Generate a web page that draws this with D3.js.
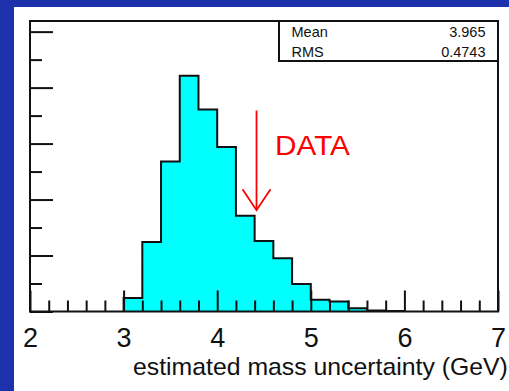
<!DOCTYPE html>
<html>
<head>
<meta charset="utf-8">
<script src="https://cdn.jsdelivr.net/npm/d3@7"></script>
<style>
  html, body { margin: 0; padding: 0; background: #1d31ac; }
  svg { display: block; }
  text { font-family: "Liberation Sans", Arial, Helvetica, sans-serif; }
</style>
</head>
<body>
<svg id="chart" width="509" height="391"></svg>
<script>
// Histogram of the estimated mass uncertainty, 0.2 GeV bins
const binLow = [3.0, 3.2, 3.4, 3.6, 3.8, 4.0, 4.2, 4.4, 4.6, 4.8, 5.0, 5.2, 5.4, 5.6, 5.8];
const binWidth = 0.2;
const counts = [24, 124, 268, 421, 361, 294, 171, 126, 95, 49, 21, 18, 6, 2, 1];

const xTicks = [2, 3, 4, 5, 6, 7];
const xDomain = [2, 7];
const yDomain = [0, 519];
const yMajor = [0, 100, 200, 300, 400, 500];
const yMinor = [50, 150, 250, 350, 450];

const statNames = ["Mean", "RMS"];
const statValues = ["3.965", "0.4743"];

// Measured value in data, marked by an arrow
const dataValue = 4.42;
const arrowFrom = 359;
const arrowTo = 181;
const dataLabel = "DATA";
const xTitle = "estimated mass uncertainty (GeV)";

const svg = d3.select("#chart");
const W = 509, H = 391;

// white pad behind the plot
svg.append("rect").attr("x", 14).attr("y", 7).attr("width", W - 14).attr("height", H - 7).attr("fill", "#ffffff");

const plot = { left: 30, right: 498, top: 21, bottom: 311.5 };
const x = d3.scaleLinear().domain(xDomain).range([plot.left, plot.right]);
const y = d3.scaleLinear().domain(yDomain).range([plot.bottom, plot.top]);

// step outline of the histogram
const steps = [];
binLow.forEach((lo, i) => {
  steps.push([lo, counts[i]]);
  steps.push([lo + binWidth, counts[i]]);
});
const first = binLow[0], last = binLow[binLow.length - 1] + binWidth;
const outline = [[first, 0], ...steps, [last, 0]];

svg.append("path")
  .attr("d", d3.area().x(d => x(d[0])).y0(y(0)).y1(d => y(d[1]))(outline))
  .attr("fill", "#00ffff");
svg.append("path")
  .attr("d", d3.line().x(d => x(d[0])).y(d => y(d[1]))(outline))
  .attr("fill", "none").attr("stroke", "#111").attr("stroke-width", 2);

// x axis: ticks pointing up into the frame
const xMinorTicks = d3.range(0, 26).map(i => xDomain[0] + i * 0.2).filter(v => !xTicks.some(t => Math.abs(t - v) < 1e-6));
const gxMinor = svg.append("g").attr("transform", `translate(0,${plot.bottom})`)
  .call(d3.axisBottom(x).tickValues(xMinorTicks).tickSizeInner(-11).tickSizeOuter(0).tickFormat(""));
const gx = svg.append("g").attr("transform", `translate(0,${plot.bottom})`)
  .call(d3.axisBottom(x).tickValues(xTicks).tickSizeInner(-21).tickSizeOuter(0).tickFormat(d3.format("d")));
[gx, gxMinor].forEach(g => {
  g.select(".domain").remove();
  g.selectAll(".tick line").attr("stroke", "#111").attr("stroke-width", 2);
});
gx.selectAll(".tick text")
  .attr("y", 35.5).attr("dy", 0)
  .attr("fill", "#111")
  .style("font-size", "27px")
  .style("font-family", "'Liberation Sans', Arial, sans-serif");

// y axis: unlabeled ticks pointing right
const gyMinor = svg.append("g").attr("transform", `translate(${plot.left},0)`)
  .call(d3.axisLeft(y).tickValues(yMinor).tickSizeInner(-12).tickSizeOuter(0).tickFormat(""));
const gy = svg.append("g").attr("transform", `translate(${plot.left},0)`)
  .call(d3.axisLeft(y).tickValues(yMajor).tickSizeInner(-23).tickSizeOuter(0).tickFormat(""));
[gy, gyMinor].forEach(g => {
  g.select(".domain").remove();
  g.selectAll(".tick line").attr("stroke", "#111").attr("stroke-width", 2);
});

// frame
svg.append("rect")
  .attr("x", plot.left).attr("y", plot.top)
  .attr("width", plot.right - plot.left).attr("height", plot.bottom - plot.top)
  .attr("fill", "none").attr("stroke", "#111").attr("stroke-width", 2);

// statistics box
const box = { left: 279, top: 21, bottom: 61 };
svg.append("rect")
  .attr("x", box.left).attr("y", box.top)
  .attr("width", plot.right - box.left).attr("height", box.bottom - box.top)
  .attr("fill", "#fff").attr("stroke", "#111").attr("stroke-width", 2);
statNames.forEach((n, i) => {
  svg.append("text").attr("x", 291.5).attr("y", 36.5 + i * 20)
    .attr("font-size", 14.5).attr("fill", "#111").text(n);
  svg.append("text").attr("x", 485.5).attr("y", 36.5 + i * 20)
    .attr("text-anchor", "end").attr("font-size", 14.5).attr("fill", "#111").text(statValues[i]);
});

// arrow for the measured value
const ax = x(dataValue);
svg.append("line")
  .attr("x1", ax).attr("x2", ax).attr("y1", y(arrowFrom)).attr("y2", y(arrowTo))
  .attr("stroke", "#ff0000").attr("stroke-width", 1.8);
svg.append("path")
  .attr("d", `M${ax - 14},${y(arrowTo) - 21}L${ax},${y(arrowTo)}L${ax + 14},${y(arrowTo) - 21}`)
  .attr("fill", "none").attr("stroke", "#ff0000").attr("stroke-width", 1.8);
svg.append("text")
  .attr("x", ax + 18.5).attr("y", 154.5)
  .attr("font-size", 27).attr("fill", "#ff0000")
  .attr("textLength", 75).attr("lengthAdjust", "spacingAndGlyphs")
  .text(dataLabel);

// axis title
svg.append("text")
  .attr("x", 133).attr("y", 375)
  .attr("font-size", 24.8).attr("fill", "#111")
  .text(xTitle);
</script>
</body>
</html>
